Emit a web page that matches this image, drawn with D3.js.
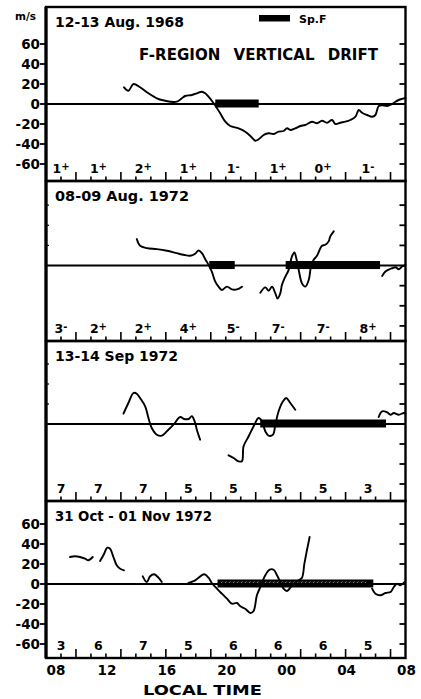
<!DOCTYPE html>
<html>
<head>
<meta charset="utf-8">
<script src="https://cdn.jsdelivr.net/npm/d3@7"></script>
<style>
  html, body { margin: 0; padding: 0; background: #fff; }
  svg { display: block; font-family: "DejaVu Sans", sans-serif; font-weight: bold; }
</style>
</head>
<body>
<svg id="chart" width="421" height="699"></svg>
<script>
// Local time in hours; values past 24 belong to the following day (32 = 08 LT).
const timeTicks = [8, 12, 16, 20, 24, 28, 32];
const timeTickLabels = ["08", "12", "16", "20", "00", "04", "08"];
const kpBoundaries = [10, 13, 16, 19, 22, 25, 28, 31];
const kpCentres = [9, 11.5, 14.5, 17.5, 20.5, 23.5, 26.5, 29.5];
const velocityTicks = [-60, -40, -20, 0, 20, 40, 60];
const velocityLabels = ["-60", "-40", "-20", "0", "20", "40", "60"];

const panelTitles = ["12-13 Aug. 1968", "08-09 Aug. 1972", "13-14 Sep 1972", "31 Oct - 01 Nov 1972"];

// Kp index for each 3-hour interval
const kpLabels = [
  ["1+", "1+", "2+", "1+", "1-", "1+", "0+", "1-"],
  ["3-", "2+", "2+", "4+", "5-", "7-", "7-", "8+"],
  ["7", "7", "7", "5", "5", "5", "5", "3"],
  ["3", "6", "7", "5", "6", "6", "6", "5"]
];

// Spread-F occurrence intervals [start, end] in LT hours
const spreadF = [
  [[19.3, 22.2]],
  [[18.9, 20.6], [24.0, 30.3]],
  [[22.3, 30.7]],
  [[19.45, 29.85]]
];

// Vertical drift (m/s) vs local time; each inner list is a continuous trace
const drift1968Aug = [
  [[13.21, 16.7], [13.50, 13.3], [13.84, 20], [14.28, 16.7], [14.84, 10.7], [15.40, 5.7], [15.73, 4], [16.29, 2.3],
   [16.73, 2.3], [17.07, 5.7], [17.29, 8], [17.74, 9], [18.07, 10.7], [18.41, 12.3], [18.63, 10.7], [18.85, 7.3],
   [19.19, 0.7], [19.63, -9.3], [19.97, -17.7], [20.30, -22], [20.86, -24.3], [21.30, -27.7], [21.64, -32],
   [21.97, -36.7], [22.19, -35.3], [22.53, -31], [22.86, -29.3], [23.20, -30], [23.53, -27.7], [23.86, -27],
   [24.09, -24.3], [24.31, -26], [24.64, -24.3], [24.98, -22], [25.31, -21], [25.76, -17.7], [26.09, -19.3],
   [26.43, -16.7], [26.76, -18.7], [27.10, -16], [27.32, -20], [27.65, -18.7], [27.99, -17.7], [28.32, -16],
   [28.66, -12.7], [28.88, -6], [29.10, -8.7], [29.44, -11], [29.77, -12.7], [29.99, -11], [30.21, -2],
   [30.44, -1.3], [30.77, -2], [31.11, 0], [31.33, 2.3], [31.55, 4], [31.89, 5.7], [32.0, 6.5]]
];

const drift1972Aug = [
  [[14.06, 26.3], [14.28, 19.7], [14.73, 17.3], [15.40, 16.3], [16.07, 14.7], [16.73, 12.3], [17.18, 10.7],
   [17.63, 9.7], [17.96, 11.7], [18.18, 15], [18.41, 12.3], [18.63, 6.3], [18.85, 0.7], [19.07, -6], [19.30, -16],
   [19.52, -21], [19.74, -24.3], [20.08, -21], [20.41, -23.7], [20.75, -23.7], [21.08, -21]],
  [[22.31, -27], [22.64, -21.7], [22.86, -25], [23.09, -21], [23.31, -27.7], [23.46, -32.7], [23.64, -27.7],
   [23.75, -19.3], [23.98, -11], [24.20, -4.3], [24.42, 9], [24.58, 13], [24.71, 7.3], [24.87, -4.3],
   [25.09, -17.7], [25.31, -21], [25.54, -14.3], [25.69, -1], [25.87, 5.7], [26.09, 9.7], [26.32, 17.3],
   [26.43, 19.7], [26.65, 20.7], [26.87, 24], [26.98, 29], [27.21, 34]],
  [[30.44, -10.3], [30.66, -6], [30.88, -4], [31.11, -2.7], [31.33, -1.7], [31.55, -3.7], [31.77, -1], [32.0, 0.7]]
];

const drift1972Sep = [
  [[13.17, 10.3], [13.50, 21], [13.84, 31], [14.06, 30.3], [14.28, 26], [14.62, 17.7], [14.84, 6], [15.06, -4],
   [15.40, -10.7], [15.73, -11.7], [16.07, -7.3], [16.51, -0.7], [16.96, 7], [17.22, 5], [17.51, 5], [17.74, 7.7],
   [17.96, 1], [18.07, -5.7], [18.29, -15.7]],
  [[20.19, -31.3], [20.52, -34], [20.86, -37.3], [21.08, -37.3], [21.19, -22.3], [21.53, -12.3], [21.86, -2.3],
   [22.19, 6], [22.42, 2.7], [22.64, -7.3], [22.86, -11.7], [23.15, -10.7], [23.31, -0.7], [23.53, 12.7],
   [23.82, 22.7], [24.04, 26], [24.31, 21], [24.64, 14.3]],
  [[30.21, 7], [30.44, 12.7], [30.77, 11.7], [31.00, 9.3], [31.22, 11], [31.55, 9.3], [31.89, 11], [32.0, 10.3]]
];

const drift1972OctNov = [
  [[9.60, 27], [9.94, 27.7], [10.27, 27], [10.61, 25.3], [10.83, 23.7], [11.12, 27]],
  [[11.61, 23], [11.83, 28.7], [12.10, 36.3], [12.28, 35.3], [12.50, 27], [12.72, 18.7], [12.95, 15.3], [13.21, 13.7]],
  [[14.46, 7.7], [14.73, 2], [14.95, 7.7], [15.22, 9.7], [15.51, 6.3], [15.73, 2]],
  [[17.51, 1], [17.96, 3.7], [18.56, 9.7], [18.85, 6.3], [19.07, 1], [19.41, -4.7], [19.74, -9.7], [20.08, -14.7],
   [20.41, -19.7], [20.75, -19], [20.97, -22.3], [21.30, -24.7], [21.64, -29], [21.86, -27], [22.08, -11.3],
   [22.31, -3], [22.64, 8.7], [22.93, 14.3], [23.20, 14.3], [23.42, 8.7], [23.64, 2], [23.86, -4.7], [24.09, -7],
   [24.31, -3.7], [24.53, 0.3], [24.87, 3.7], [25.09, 6.3], [25.25, 20.3], [25.42, 33.7], [25.60, 47]],
  [[29.77, -4.7], [29.99, -9.7], [30.33, -11.3], [30.66, -9], [31.00, -8], [31.22, -3], [31.44, 0.3],
   [31.66, -1.3], [31.93, 2]]
];

const driftSeries = [drift1968Aug, drift1972Aug, drift1972Sep, drift1972OctNov];

// ---- layout ----
const svg = d3.select("#chart");
const LEFT = 46, RIGHT = 405.5;
const panels = [
  { top: 7,   bottom: 181, domain: [-77, 97], leftLabels: true },
  { top: 181, bottom: 341, domain: [-75, 84], leftLabels: false },
  { top: 341, bottom: 501, domain: [-77, 83], leftLabels: false },
  { top: 501, bottom: 658, domain: [-74, 83], leftLabels: true }
];
const SPF_HI = 4.5, SPF_LO = -3.5;   // bar thickness in m/s units around zero

const x = d3.scaleLinear().domain([8, 32]).range([LEFT, RIGHT]);

const defs = svg.append("defs");
const pat = defs.append("pattern").attr("id", "hatch").attr("patternUnits", "userSpaceOnUse")
  .attr("width", 4).attr("height", 4);
pat.append("rect").attr("width", 4).attr("height", 4).attr("fill", "#151515");
pat.append("path").attr("d", "M0,4 L4,0").attr("stroke", "#9a9a9a").attr("stroke-width", 0.8);

const hourly = d3.range(9, 32);

panels.forEach((p, i) => {
  const y = d3.scaleLinear().domain(p.domain).range([p.bottom, p.top]);
  const g = svg.append("g");

  // spread-F bars
  spreadF[i].forEach(([a, b]) => {
    g.append("rect")
      .attr("x", x(a)).attr("width", x(b) - x(a))
      .attr("y", y(SPF_HI)).attr("height", y(SPF_LO) - y(SPF_HI))
      .attr("fill", "#000");
    if (i === 3) {
      g.append("rect")
        .attr("x", x(a) + 3).attr("width", x(b) - x(a) - 10)
        .attr("y", y(SPF_HI) + 2).attr("height", 3)
        .attr("fill", "url(#hatch)");
    }
  });

  // zero line
  g.append("line")
    .attr("x1", LEFT).attr("x2", RIGHT).attr("y1", y(0)).attr("y2", y(0))
    .attr("stroke", "#000").attr("stroke-width", 2);

  // drift traces
  const line = d3.line().x(d => x(d[0])).y(d => y(d[1])).curve(d3.curveCatmullRom.alpha(0.5));
  driftSeries[i].forEach(seg => {
    g.append("path").attr("d", line(seg))
      .attr("fill", "none").attr("stroke", "#000").attr("stroke-width", 1.9)
      .attr("stroke-linejoin", "round").attr("stroke-linecap", "round");
  });

  // hourly ticks rising from the bottom edge, longer at Kp boundaries
  g.selectAll(".hr").data(hourly).join("line")
    .attr("x1", d => x(d)).attr("x2", d => x(d))
    .attr("y1", p.bottom)
    .attr("y2", d => p.bottom - (kpBoundaries.includes(d) ? 9 : 4.5))
    .attr("stroke", "#000").attr("stroke-width", 1.6);

  // Kp labels
  kpLabels[i].forEach((k, j) => {
    const t = g.append("text")
      .attr("x", x(kpCentres[j])).attr("y", p.bottom - 8)
      .attr("text-anchor", "middle").attr("font-size", 12.5);
    t.append("tspan").text(k[0]);
    if (k.length > 1) {
      t.append("tspan").attr("font-size", 10).attr("dy", -3).text(k.slice(1));
    }
  });

  // right-hand ticks, inside the frame
  g.selectAll(".rt").data(velocityTicks.filter(v => v !== 0)).join("line")
    .attr("x1", RIGHT).attr("x2", RIGHT - 6)
    .attr("y1", d => y(d)).attr("y2", d => y(d))
    .attr("stroke", "#000").attr("stroke-width", 1.8);

  if (p.leftLabels) {
    g.selectAll(".lt").data(velocityTicks).join("line")
      .attr("x1", LEFT - 6).attr("x2", LEFT)
      .attr("y1", d => y(d)).attr("y2", d => y(d))
      .attr("stroke", "#000").attr("stroke-width", 1.8);
    g.selectAll(".ll").data(velocityTicks).join("text")
      .attr("x", LEFT - 6).attr("y", d => y(d) + 5)
      .attr("text-anchor", "end").attr("font-size", 13.5)
      .text((d, k) => velocityLabels[k]);
  } else {
    g.selectAll(".lt").data([20, 40, 60]).join("line")
      .attr("x1", LEFT).attr("x2", LEFT + 3)
      .attr("y1", d => y(d)).attr("y2", d => y(d))
      .attr("stroke", "#000").attr("stroke-width", 1.2);
  }

  // frame
  g.append("rect")
    .attr("x", LEFT).attr("y", p.top)
    .attr("width", RIGHT - LEFT).attr("height", p.bottom - p.top)
    .attr("fill", "none").attr("stroke", "#000").attr("stroke-width", 2.4);
  g.append("line")
    .attr("x1", LEFT).attr("x2", LEFT).attr("y1", p.top).attr("y2", p.bottom)
    .attr("stroke", "#000").attr("stroke-width", 3.2);

  // panel title
  const titleWidths = [129, 134, 123, 157];
  g.append("text")
    .attr("x", 55).attr("y", p.top + 20)
    .attr("font-size", 14.5)
    .attr("textLength", titleWidths[i]).attr("lengthAdjust", "spacingAndGlyphs")
    .text(panelTitles[i]);
});

// unit label and heading in the top panel
svg.append("text").attr("x", 15).attr("y", 20).attr("font-size", 10.5).text("m/s");
svg.append("text").attr("x", 139).attr("y", 60).attr("font-size", 15)
  .attr("textLength", 239).attr("lengthAdjust", "spacingAndGlyphs")
  .attr("word-spacing", 8)
  .text("F-REGION VERTICAL DRIFT");

// spread-F legend
svg.append("rect").attr("x", 259).attr("y", 15).attr("width", 31).attr("height", 6.5).attr("fill", "#000");
svg.append("text").attr("x", 299).attr("y", 23).attr("font-size", 11).text("Sp.F");

// local-time axis under the last panel
const base = panels[3].bottom;
svg.selectAll(".tl").data(timeTicks).join("text")
  .attr("x", (d, k) => k === 0 ? x(d) + 10 : x(d) + 1)
  .attr("y", base + 17)
  .attr("text-anchor", "middle").attr("font-size", 13.5)
  .text((d, k) => timeTickLabels[k]);

svg.append("text").attr("x", 143).attr("y", 695).attr("font-size", 14)
  .attr("textLength", 119).attr("lengthAdjust", "spacingAndGlyphs")
  .text("LOCAL  TIME");
</script>
</body>
</html>
